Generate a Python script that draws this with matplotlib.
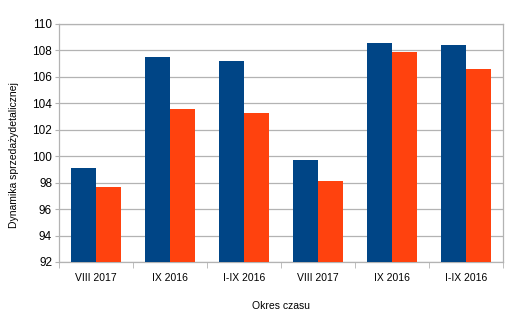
import matplotlib.pyplot as plt
import numpy as np

categories = ["VIII 2017", "IX 2016", "I-IX 2016", "VIII 2017", "IX 2016", "I-IX 2016"]
series_a = [99.1, 107.5, 107.2, 99.7, 108.6, 108.4]
series_b = [97.7, 103.6, 103.3, 98.1, 107.9, 106.6]
y_ticks = [92, 94, 96, 98, 100, 102, 104, 106, 108, 110]

plt.rcParams["font.family"] = ["Liberation Sans", "DejaVu Sans"]

fig = plt.figure(figsize=(5.22, 3.22), dpi=100)
ax = fig.add_axes([59 / 522, 1 - 262 / 322, 444 / 522, 238 / 322])

x = np.arange(len(categories))
w = 1 / 3
ax.bar(x - w / 2, [v - 92 for v in series_a], w, bottom=92, color="#004586", zorder=3)
ax.bar(x + w / 2, [v - 92 for v in series_b], w, bottom=92, color="#ff420e", zorder=3)

ax.set_xlim(-0.5, len(categories) - 0.5)
ax.set_ylim(92, 110)
ax.set_yticks(y_ticks)
ax.set_yticklabels([str(t) for t in y_ticks], fontsize=8.5)
ax.yaxis.grid(True, color="#b3b3b3", linewidth=0.9, zorder=0)

ax.set_xticks(x)
ax.set_xticklabels(categories, fontsize=7.5)
ax.tick_params(axis="x", length=0, pad=8)
ax.set_xticks(np.arange(len(categories) + 1) - 0.5, minor=True)
ax.tick_params(axis="x", which="minor", length=4, color="#b3b3b3")
ax.tick_params(axis="y", length=3, color="#b3b3b3", pad=2)

for s in ax.spines.values():
    s.set_color("#b3b3b3")
    s.set_linewidth(0.9)

ax.set_xlabel("Okres czasu", fontsize=7.5, labelpad=13)
ax.set_ylabel("Dynamika sprzedażydetalicznej", fontsize=7.5)
ax.yaxis.set_label_coords(-0.09, 0.45)

fig.savefig("out.png", dpi=100)
